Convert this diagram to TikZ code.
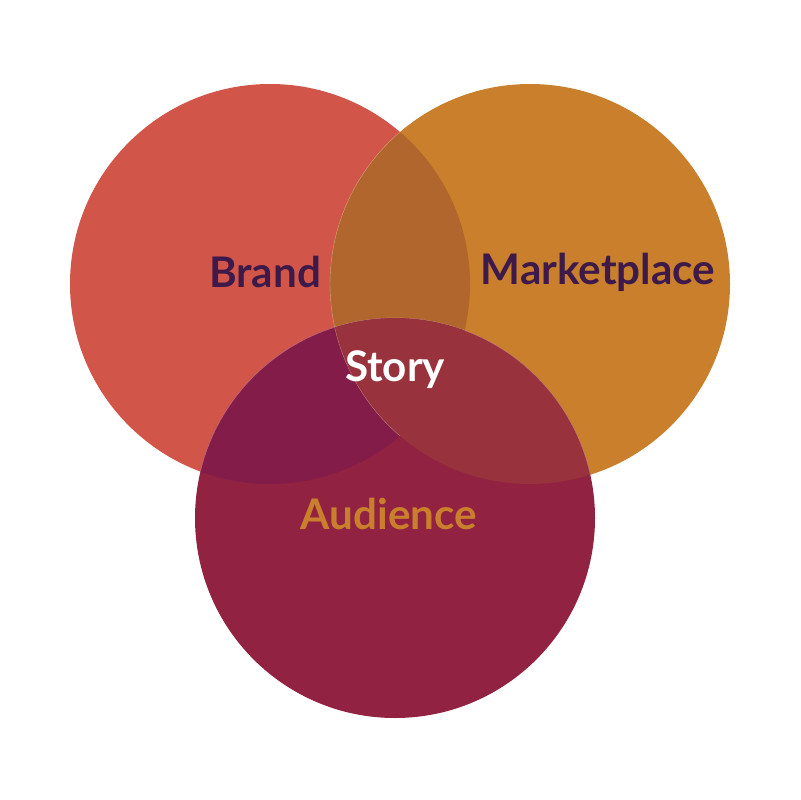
\documentclass[tikz,border=0pt]{standalone}
\usepackage{fontspec}
\setmainfont{Lato}
\usetikzlibrary{calc}
\definecolor{brandred}{HTML}{D15649}
\definecolor{marketorange}{HTML}{C97F2B}
\definecolor{audiencewine}{HTML}{922241}
\definecolor{bmmix}{HTML}{B0662C}
\definecolor{bamix}{HTML}{831C48}
\definecolor{mamix}{HTML}{98323C}
\definecolor{labelpurple}{HTML}{3E1A4A}
\tikzset{
  vlabel/.style={font=\bfseries\fontsize{30}{36}\selectfont,inner sep=0pt},
  seam/.style={draw=white,draw opacity=0.35,line width=0.3pt}
}
\begin{document}
\begin{tikzpicture}[x=0.025cm,y=-0.025cm]
    \useasboundingbox (0,0) rectangle (800,800);
    \coordinate (cb) at (270,284);
    \coordinate (cm) at (530,284);
    \coordinate (ca) at (395,518);
    \fill[brandred] (cb) circle[radius=200];
    \fill[marketorange] (cm) circle[radius=200];
    \fill[audiencewine] (ca) circle[radius=200];
    % overlaps
    \begin{scope}
      \clip (cb) circle[radius=200];
      \fill[bmmix,seam] (cm) circle[radius=200];
    \end{scope}
    \begin{scope}
      \clip (cb) circle[radius=200];
      \fill[bamix,seam] (ca) circle[radius=200];
    \end{scope}
    \begin{scope}
      \clip (cm) circle[radius=200];
      \fill[mamix,seam] (ca) circle[radius=200];
    \end{scope}
    \begin{scope}
      \clip (cb) circle[radius=200];
      \clip (ca) circle[radius=200];
      \fill[mamix,seam] (cm) circle[radius=200];
    \end{scope}
    \node[vlabel,text=labelpurple] (brand) at (265,272) {Brand};
    \node[vlabel,text=labelpurple] (market) at (598,272) {Marketplace};
    \node[vlabel,text=white] (story) at (395,370) {Story};
    \node[vlabel,text=marketorange] (audience) at (389,514) {Audience};
\end{tikzpicture}
\end{document}
